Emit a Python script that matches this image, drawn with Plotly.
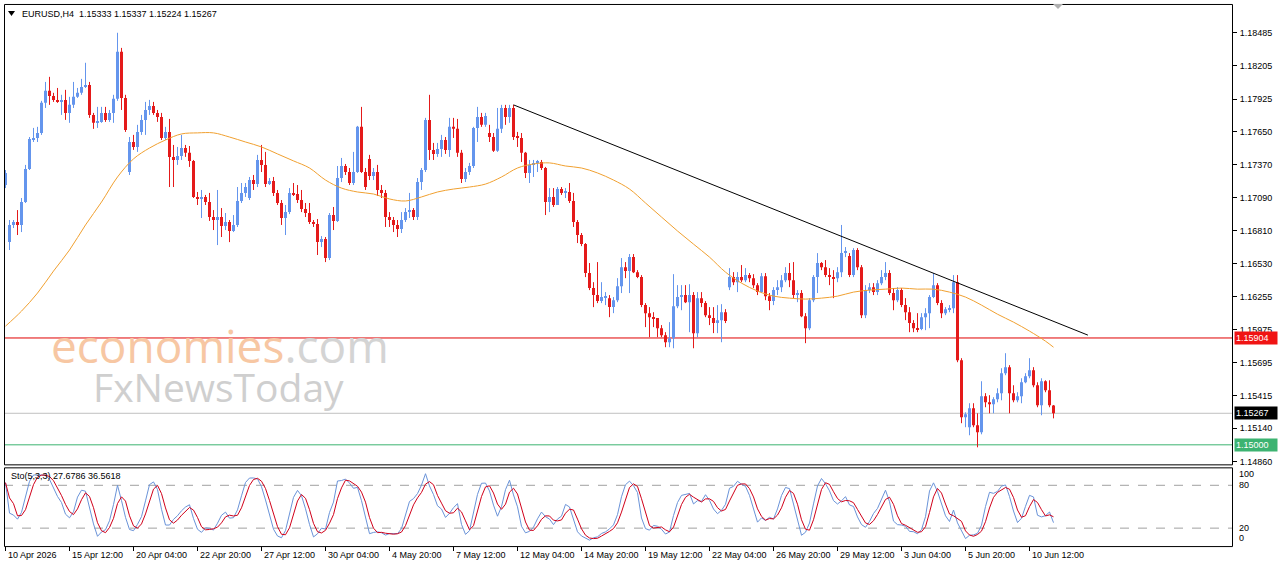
import numpy as np
import pandas as pd
import plotly.graph_objects as go

W, H = 1280, 567

# ---------------- data (EURUSD H4) ----------------
open_ = [
1.17198,1.16715,1.16860,1.16885,1.16860,1.17054,1.17334,1.17587,1.17596,1.17638,
1.17893,1.17995,1.17952,1.17918,1.17901,1.17918,1.17808,1.17876,1.17944,1.17978,
1.18028,1.18045,1.17791,1.17724,1.17732,1.17808,1.17749,1.17808,1.17927,1.18325,
1.17935,1.17308,1.17562,1.17520,1.17647,1.17749,1.17833,1.17867,1.17808,1.17774,
1.17596,1.17647,1.17436,1.17410,1.17444,1.17511,1.17470,1.17402,1.17097,1.17088,
1.17097,1.17054,1.16927,1.16902,1.16927,1.16851,1.16885,1.16809,1.16860,1.17063,
1.17131,1.17088,1.17240,1.17206,1.17410,1.17368,1.17206,1.17232,1.17131,1.17046,
1.16919,1.16969,1.17131,1.17122,1.17071,1.16995,1.16961,1.16885,1.16868,1.16715,
1.16741,1.16580,1.16944,1.16894,1.17257,1.17359,1.17308,1.17215,1.17308,1.17690,
1.17308,1.17419,1.17274,1.17308,1.17156,1.17131,1.16927,1.16902,1.16860,1.16826,
1.16902,1.16969,1.16986,1.16927,1.17223,1.17325,1.17749,1.17495,1.17461,1.17503,
1.17579,1.17495,1.17690,1.17673,1.17470,1.17249,1.17308,1.17359,1.17681,1.17774,
1.17707,1.17638,1.17604,1.17487,1.17673,1.17850,1.17774,1.17850,1.17604,1.17596,
1.17470,1.17300,1.17368,1.17385,1.17393,1.17342,1.17054,1.17097,1.17029,1.17164,
1.17131,1.17139,1.17063,1.16885,1.16775,1.16698,1.16453,1.16326,1.16267,1.16216,
1.16250,1.16241,1.16165,1.16224,1.16342,1.16503,1.16470,1.16588,1.16461,1.16419,
1.16182,1.16114,1.16080,1.16072,1.15987,1.15928,1.15868,1.15902,1.16173,1.16250,
1.16267,1.16207,1.16267,1.15945,1.16241,1.16199,1.16097,1.16072,1.16030,1.16055,
1.16122,1.16334,1.16419,1.16376,1.16419,1.16393,1.16436,1.16410,1.16351,1.16292,
1.16427,1.16258,1.16216,1.16309,1.16334,1.16393,1.16453,1.16393,1.16267,1.16284,
1.16088,1.15987,1.16224,1.16419,1.16538,1.16503,1.16436,1.16419,1.16410,1.16461,
1.16622,1.16597,1.16436,1.16648,1.16503,1.16097,1.16309,1.16334,1.16292,1.16368,
1.16419,1.16453,1.16284,1.16224,1.16309,1.16182,1.16122,1.16030,1.15987,1.15979,
1.16080,1.16114,1.16250,1.16351,1.16199,1.16114,1.16148,1.16156,1.16376,1.15716,
1.15233,1.15149,1.15309,1.15166,1.15106,1.15411,1.15360,1.15343,1.15386,1.15437,
1.15606,1.15657,1.15437,1.15377,1.15411,1.15529,1.15580,1.15631,1.15504,1.15335,
1.15538,1.15462,1.15333]

high = [
1.17325,1.16902,1.16902,1.16986,1.17088,1.17368,1.17604,1.17681,1.17690,1.17910,
1.18070,1.18113,1.17978,1.18019,1.17961,1.18003,1.17944,1.18070,1.18019,1.18096,
1.18232,1.18070,1.17808,1.17859,1.17859,1.17859,1.17833,1.17961,1.18486,1.18358,
1.17961,1.17604,1.17622,1.17707,1.17791,1.17901,1.17918,1.17901,1.17833,1.17808,
1.17690,1.17757,1.17537,1.17520,1.17622,1.17537,1.17528,1.17410,1.17139,1.17156,
1.17114,1.17131,1.16986,1.17156,1.17003,1.16961,1.16902,1.16944,1.17181,1.17215,
1.17215,1.17266,1.17283,1.17453,1.17537,1.17478,1.17257,1.17266,1.17156,1.17071,
1.17029,1.17172,1.17215,1.17198,1.17156,1.17046,1.17046,1.16902,1.16910,1.16766,
1.16758,1.16961,1.17012,1.17359,1.17427,1.17376,1.17342,1.17478,1.17698,1.17859,
1.17342,1.17453,1.17342,1.17368,1.17198,1.17156,1.16969,1.16927,1.16902,1.16969,
1.17003,1.17131,1.17003,1.17257,1.17342,1.17766,1.17961,1.17554,1.17554,1.17622,
1.17604,1.17766,1.17766,1.17757,1.17495,1.17342,1.17385,1.17690,1.17859,1.17808,
1.17808,1.17707,1.17638,1.17850,1.17876,1.17876,1.17876,1.17876,1.17647,1.17638,
1.17478,1.17410,1.17410,1.17410,1.17410,1.17351,1.17172,1.17172,1.17181,1.17181,
1.17172,1.17215,1.17131,1.16902,1.16792,1.16707,1.16538,1.16376,1.16546,1.16376,
1.16292,1.16267,1.16250,1.16410,1.16580,1.16546,1.16614,1.16614,1.16478,1.16436,
1.16199,1.16165,1.16122,1.16072,1.16013,1.15953,1.16038,1.16444,1.16351,1.16351,
1.16351,1.16359,1.16292,1.16292,1.16292,1.16216,1.16165,1.16165,1.16182,1.16190,
1.16148,1.16495,1.16461,1.16461,1.16521,1.16495,1.16453,1.16444,1.16368,1.16453,
1.16453,1.16284,1.16334,1.16393,1.16436,1.16503,1.16538,1.16546,1.16309,1.16309,
1.16114,1.16241,1.16436,1.16622,1.16546,1.16563,1.16495,1.16478,1.16503,1.16860,
1.16673,1.16622,1.16664,1.16664,1.16521,1.16351,1.16368,1.16368,1.16393,1.16478,
1.16546,1.16478,1.16326,1.16334,1.16326,1.16241,1.16165,1.16055,1.16114,1.16114,
1.16156,1.16267,1.16453,1.16368,1.16224,1.16165,1.16182,1.16436,1.16436,1.15733,
1.15275,1.15352,1.15352,1.15267,1.15538,1.15437,1.15420,1.15403,1.15478,1.15648,
1.15775,1.15674,1.15504,1.15445,1.15563,1.15606,1.15733,1.15657,1.15529,1.15563,
1.15546,1.15546,1.15337]

low = [
1.17172,1.16648,1.16834,1.16775,1.16800,1.17046,1.17325,1.17562,1.17562,1.17622,
1.17850,1.17876,1.17901,1.17893,1.17791,1.17749,1.17724,1.17850,1.17935,1.17961,
1.18019,1.17766,1.17673,1.17681,1.17724,1.17732,1.17732,1.17724,1.17910,1.17833,
1.17647,1.17283,1.17495,1.17478,1.17622,1.17622,1.17791,1.17791,1.17732,1.17579,
1.17579,1.17181,1.17181,1.17368,1.17410,1.17436,1.17351,1.17088,1.17029,1.16919,
1.17029,1.16894,1.16817,1.16690,1.16758,1.16817,1.16715,1.16800,1.16843,1.17046,
1.17097,1.17071,1.17156,1.17181,1.17308,1.17181,1.17198,1.17105,1.17029,1.16860,
1.16775,1.16952,1.17105,1.17046,1.16969,1.16927,1.16868,1.16843,1.16606,1.16673,
1.16546,1.16563,1.16817,1.16885,1.17223,1.17283,1.17198,1.17198,1.17300,1.17300,
1.17156,1.17240,1.17240,1.17105,1.17088,1.16843,1.16843,1.16800,1.16758,1.16792,
1.16885,1.16919,1.16902,1.16902,1.17156,1.17308,1.17410,1.17410,1.17436,1.17436,
1.17461,1.17436,1.17596,1.17436,1.17215,1.17223,1.17283,1.17342,1.17562,1.17690,
1.17690,1.17562,1.17478,1.17478,1.17638,1.17707,1.17724,1.17579,1.17520,1.17393,
1.17257,1.17215,1.17266,1.17308,1.17325,1.16944,1.16969,1.17012,1.17029,1.17114,
1.17088,1.17046,1.16843,1.16707,1.16681,1.16419,1.16309,1.16165,1.16199,1.16199,
1.16182,1.16080,1.16114,1.16207,1.16284,1.16410,1.16284,1.16453,1.16410,1.16165,
1.15996,1.15911,1.15996,1.15911,1.15911,1.15826,1.15826,1.15817,1.16156,1.16139,
1.16199,1.15953,1.15817,1.15911,1.16165,1.16080,1.16013,1.15945,1.15945,1.15868,
1.16030,1.16309,1.16351,1.16292,1.16376,1.16376,1.16376,1.16326,1.16267,1.16284,
1.16224,1.16139,1.16182,1.16267,1.16292,1.16376,1.16334,1.16241,1.16207,1.16080,
1.15860,1.15970,1.16207,1.16284,1.16478,1.16419,1.16351,1.16241,1.16376,1.16419,
1.16588,1.16419,1.16419,1.16478,1.16072,1.16072,1.16284,1.16267,1.16267,1.16351,
1.16393,1.16267,1.16139,1.16207,1.16165,1.16055,1.15953,1.15953,1.15953,1.15970,
1.15970,1.15987,1.16241,1.16182,1.16072,1.16097,1.16122,1.16114,1.15699,1.15183,
1.15149,1.15081,1.15149,1.14979,1.15089,1.15318,1.15267,1.15267,1.15360,1.15377,
1.15589,1.15267,1.15360,1.15360,1.15352,1.15521,1.15563,1.15487,1.15318,1.15250,
1.15445,1.15318,1.15224]

close_ = [
1.17300,1.16860,1.16885,1.16860,1.17054,1.17334,1.17587,1.17596,1.17638,1.17893,
1.17995,1.17952,1.17918,1.17901,1.17918,1.17808,1.17876,1.17944,1.17978,1.18028,
1.18045,1.17791,1.17724,1.17732,1.17808,1.17749,1.17808,1.17927,1.18325,1.17935,
1.17664,1.17562,1.17520,1.17647,1.17749,1.17833,1.17867,1.17808,1.17774,1.17596,
1.17647,1.17436,1.17410,1.17444,1.17511,1.17470,1.17402,1.17097,1.17088,1.17097,
1.17054,1.16927,1.16902,1.16927,1.16851,1.16885,1.16809,1.16860,1.17063,1.17131,
1.17181,1.17240,1.17206,1.17410,1.17368,1.17206,1.17232,1.17131,1.17046,1.16919,
1.16969,1.17131,1.17122,1.17071,1.16995,1.16961,1.16885,1.16868,1.16715,1.16741,
1.16580,1.16944,1.16894,1.17257,1.17359,1.17308,1.17215,1.17308,1.17690,1.17308,
1.17181,1.17274,1.17308,1.17156,1.17131,1.16927,1.16902,1.16860,1.16826,1.16902,
1.16969,1.16986,1.16927,1.17223,1.17325,1.17749,1.17495,1.17461,1.17503,1.17579,
1.17495,1.17690,1.17673,1.17470,1.17249,1.17308,1.17359,1.17681,1.17774,1.17707,
1.17782,1.17604,1.17487,1.17673,1.17850,1.17774,1.17850,1.17604,1.17596,1.17470,
1.17300,1.17368,1.17385,1.17393,1.17342,1.17054,1.17097,1.17029,1.17164,1.17131,
1.17139,1.17063,1.16885,1.16775,1.16698,1.16453,1.16326,1.16267,1.16216,1.16250,
1.16258,1.16165,1.16224,1.16342,1.16503,1.16470,1.16588,1.16461,1.16419,1.16182,
1.16114,1.16080,1.16072,1.15987,1.15928,1.15868,1.15902,1.16173,1.16250,1.16267,
1.16207,1.16267,1.15945,1.16241,1.16199,1.16097,1.16072,1.16030,1.16055,1.16122,
1.16047,1.16419,1.16376,1.16419,1.16393,1.16436,1.16410,1.16351,1.16292,1.16427,
1.16258,1.16216,1.16309,1.16334,1.16393,1.16453,1.16393,1.16267,1.16284,1.16088,
1.15987,1.16224,1.16419,1.16538,1.16503,1.16436,1.16419,1.16410,1.16461,1.16622,
1.16640,1.16436,1.16648,1.16503,1.16097,1.16309,1.16334,1.16292,1.16368,1.16419,
1.16453,1.16284,1.16224,1.16309,1.16182,1.16122,1.16030,1.15987,1.15979,1.16080,
1.16114,1.16250,1.16351,1.16199,1.16114,1.16148,1.16156,1.16376,1.15716,1.15233,
1.15258,1.15309,1.15166,1.15106,1.15411,1.15360,1.15343,1.15386,1.15437,1.15606,
1.15657,1.15437,1.15377,1.15411,1.15529,1.15580,1.15631,1.15504,1.15335,1.15538,
1.15462,1.15335,1.15267]

# moving average (orange), every 4th bar
ma_bar = list(range(0, 261, 4)) + [262]
ma_val = [
1.16004,1.16131,1.16284,1.16470,1.16648,1.16860,1.17054,1.17266,1.17419,1.17511,
1.17579,1.17630,1.17639,1.17639,1.17604,1.17562,1.17520,1.17461,1.17402,1.17342,
1.17240,1.17172,1.17139,1.17122,1.17080,1.17063,1.17097,1.17139,1.17164,1.17181,
1.17206,1.17266,1.17342,1.17376,1.17385,1.17359,1.17342,1.17300,1.17240,1.17164,
1.17046,1.16927,1.16809,1.16698,1.16588,1.16461,1.16368,1.16301,1.16258,1.16241,
1.16233,1.16241,1.16258,1.16292,1.16309,1.16317,1.16326,1.16317,1.16317,1.16292,
1.16250,1.16182,1.16105,1.16038,1.15962,1.15877,1.15826]

# drawn trendline (bar index, price)
trend_bar = [127, 270.6]
trend_price = [1.17876, 1.15928]

# horizontal levels
level_red = 1.15904
level_bid = 1.15267
level_green = 1.15000

price_ticks = [1.18485,1.18205,1.17925,1.17650,1.17370,1.17090,1.16810,
               1.16530,1.16255,1.15975,1.15695,1.15415,1.15140,1.14860]
price_tick_text = ["1.18485","1.18205","1.17925","1.17650","1.17370","1.17090","1.16810",
                   "1.16530","1.16255","1.15975","1.15695","1.15415","1.15140","1.14860"]

time_tick_bar = list(range(0, 257, 16))
time_tick_text = ["10 Apr 2026","15 Apr 12:00","20 Apr 04:00","22 Apr 20:00","27 Apr 12:00",
                  "30 Apr 04:00","4 May 20:00","7 May 12:00","12 May 04:00","14 May 20:00",
                  "19 May 12:00","22 May 04:00","26 May 20:00","29 May 12:00","3 Jun 04:00",
                  "5 Jun 20:00","10 Jun 12:00"]

header_text = "EURUSD,H4  1.15333 1.15337 1.15224 1.15267"
sto_text = "Sto(5,3,3) 27.6786 36.5618"

# ---------------- geometry helpers ----------------
def px(x):
    return x / W

def py(y):
    return 1 - y / H

PLOT_L, PLOT_R = 4, 1232
MAIN_T, MAIN_B = 4, 466
SUB_T, SUB_B = 469, 548
P_PER_PX = 0.0000843
P_TOP = 1.18485 + 33 * P_PER_PX     # price at pixel row 0
STO80_Y, STO20_Y = 487, 530

BULL = "#6495ED"
BEAR = "#E41A1A"
FONT = "Liberation Sans"

o = np.array(open_)
c = np.array(close_)
h = np.maximum(np.array(high), np.maximum(o, c))
l = np.minimum(np.array(low), np.minimum(o, c))
idx = np.arange(len(c))
up = c >= o

fig = go.Figure()

# wicks
for mask, col in ((up, BULL), (~up, BEAR)):
    xs, ys = [], []
    for i in idx[mask]:
        xs += [i, i, None]
        ys += [l[i], h[i], None]
    fig.add_trace(go.Scatter(x=xs, y=ys, mode="lines", line=dict(color=col, width=1),
                             hoverinfo="skip", showlegend=False, xaxis="x", yaxis="y"))

# bodies
base = np.minimum(o, c)
height = np.maximum(np.abs(c - o), 0.00009)
fig.add_trace(go.Bar(x=idx, y=height, base=base, width=0.75,
                     marker=dict(color=[BULL if u else BEAR for u in up], line=dict(width=0)),
                     showlegend=False, xaxis="x", yaxis="y"))

# moving average
fig.add_trace(go.Scatter(x=ma_bar, y=ma_val, mode="lines", line=dict(color="#F0A030", width=1, shape="spline"),
                         showlegend=False, xaxis="x", yaxis="y"))

# trendline
fig.add_trace(go.Scatter(x=trend_bar, y=trend_price, mode="lines", line=dict(color="black", width=1),
                         showlegend=False, xaxis="x", yaxis="y"))

# stochastic (5,3,3)
s = pd.DataFrame({"h": h, "l": l, "c": c})
ll = s["l"].rolling(5, min_periods=1).min()
hh = s["h"].rolling(5, min_periods=1).max()
k = 100 * (s["c"] - ll).rolling(3, min_periods=1).sum() / (hh - ll).rolling(3, min_periods=1).sum()
d = k.rolling(3, min_periods=1).mean()
fig.add_trace(go.Scatter(x=idx, y=k, mode="lines", line=dict(color="#6A93D8", width=1),
                         showlegend=False, xaxis="x2", yaxis="y2"))
fig.add_trace(go.Scatter(x=idx, y=d, mode="lines", line=dict(color="#D0001A", width=1),
                         showlegend=False, xaxis="x2", yaxis="y2"))

x_range = [(PLOT_L - 5.5) / 4, (PLOT_R - 5.5) / 4]
y_range = [P_TOP - P_PER_PX * MAIN_B, P_TOP - P_PER_PX * MAIN_T]
sto_per_px = 60.0 / (STO20_Y - STO80_Y)
y2_range = [20 - (SUB_B - STO20_Y) * sto_per_px, 80 + (STO80_Y - SUB_T) * sto_per_px]

shapes = []
# level lines
for lv, col in ((level_red, "#E00000"), (level_bid, "#C0C0C0"), (level_green, "#3CB371")):
    shapes.append(dict(type="line", xref="paper", yref="y", x0=px(PLOT_L), x1=px(PLOT_R),
                       y0=lv, y1=lv, line=dict(color=col, width=1), layer="below"))
# stochastic levels
for lv in (80, 20):
    shapes.append(dict(type="line", xref="paper", yref="y2", x0=px(PLOT_L), x1=px(PLOT_R),
                       y0=lv, y1=lv, line=dict(color="#A0A0A0", width=1, dash="dash"), layer="below"))
# frames
shapes.append(dict(type="rect", xref="paper", yref="paper", x0=px(PLOT_L + 0.5), x1=px(PLOT_R + 0.5),
                   y0=py(MAIN_B + 0.5), y1=py(MAIN_T + 0.5), line=dict(color="black", width=1)))
shapes.append(dict(type="rect", xref="paper", yref="paper", x0=px(PLOT_L + 0.5), x1=px(PLOT_R + 0.5),
                   y0=py(SUB_B + 0.5), y1=py(SUB_T + 0.5), line=dict(color="black", width=1)))
# header triangle and chart-shift marker
shapes.append(dict(type="path", xref="paper", yref="paper",
                   path=f"M {px(8)} {py(11)} L {px(15)} {py(11)} L {px(11.5)} {py(16)} Z",
                   fillcolor="black", line=dict(width=0)))
shapes.append(dict(type="path", xref="paper", yref="paper",
                   path=f"M {px(1053)} {py(4)} L {px(1063)} {py(4)} L {px(1058)} {py(9)} Z",
                   fillcolor="#B0B0B0", line=dict(width=0)))

annotations = []
annotations.append(dict(xref="paper", yref="paper", x=px(20), y=py(14), text=header_text,
                        showarrow=False, xanchor="left", yanchor="middle",
                        font=dict(family=FONT, size=9, color="black")))
annotations.append(dict(xref="paper", yref="paper", x=px(9), y=py(478), text=sto_text,
                        showarrow=False, xanchor="left", yanchor="middle",
                        font=dict(family=FONT, size=9, color="black")))
for lv, txt, bg in ((level_red, "1.15904", "#F01414"), (level_bid, "1.15267", "#000000"),
                    (level_green, "1.15000", "#3CB371")):
    annotations.append(dict(xref="paper", yref="y", x=px(1234), y=lv, text=txt, showarrow=False,
                            xanchor="left", yanchor="middle", bgcolor=bg, borderpad=1, width=40,
                            align="left", font=dict(family=FONT, size=9, color="white")))
for val, ypix in (("100", 476), ("80", 487), ("20", 530), ("0", 540)):
    annotations.append(dict(xref="paper", yref="paper", x=px(1237), y=py(ypix), text=val,
                            showarrow=False, xanchor="left", yanchor="middle",
                            font=dict(family=FONT, size=9, color="black")))
for b, txt in zip(time_tick_bar, time_tick_text):
    annotations.append(dict(xref="x2", yref="paper", x=b, y=py(557), text=txt, showarrow=False,
                            xanchor="left", yanchor="middle", xshift=0,
                            font=dict(family=FONT, size=9, color="black")))
# watermark
annotations.append(dict(xref="paper", yref="paper", x=px(220), y=py(346),
                        text='<span style="color:#F7C7A3">economies</span><span style="color:#D4D4D4">.com</span>',
                        showarrow=False, xanchor="center", yanchor="middle",
                        font=dict(family="Open Sans", size=46)))
annotations.append(dict(xref="paper", yref="paper", x=px(218), y=py(388), text="FxNewsToday",
                        showarrow=False, xanchor="center", yanchor="middle",
                        font=dict(family="Open Sans", size=39, color="#CFCFCF")))

fig.update_layout(
    width=W, height=H, margin=dict(l=0, r=0, t=0, b=0),
    paper_bgcolor="white", plot_bgcolor="white",
    showlegend=False, barmode="overlay", hovermode=False,
    xaxis=dict(domain=[px(PLOT_L), px(PLOT_R)], range=x_range, anchor="y",
               showgrid=False, zeroline=False, showticklabels=False, ticks="", fixedrange=True),
    yaxis=dict(domain=[py(MAIN_B), py(MAIN_T)], range=y_range, anchor="x", side="right",
               showgrid=False, zeroline=False, tickvals=price_ticks, ticktext=price_tick_text,
               ticks="outside", ticklen=4, tickcolor="black", ticklabelstandoff=1,
               tickfont=dict(family=FONT, size=9, color="black"), fixedrange=True),
    xaxis2=dict(domain=[px(PLOT_L), px(PLOT_R)], range=x_range, anchor="y2",
                showgrid=False, zeroline=False, showticklabels=False,
                tickvals=time_tick_bar, ticks="outside", ticklen=4, tickcolor="black", fixedrange=True),
    yaxis2=dict(domain=[py(SUB_B), py(SUB_T)], range=y2_range, anchor="x2", side="right",
                showgrid=False, zeroline=False, showticklabels=False, fixedrange=True),
    shapes=shapes, annotations=annotations,
)

fig.write_html("out.html")
